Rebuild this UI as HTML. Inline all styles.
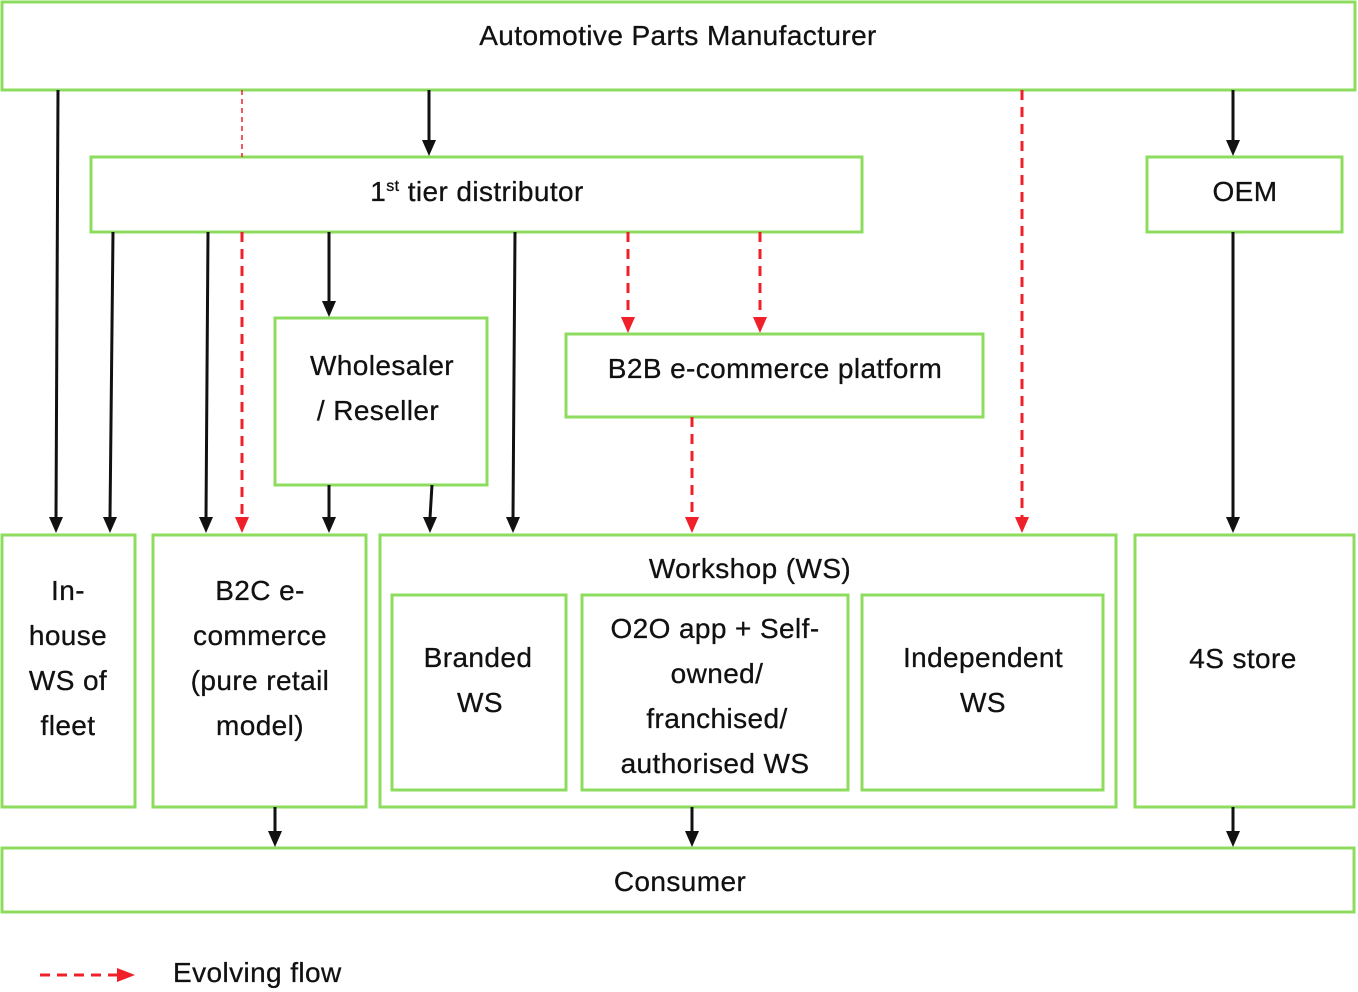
<!DOCTYPE html>
<html><head><meta charset="utf-8"><style>
body{margin:0;background:#fff;width:1358px;height:992px;overflow:hidden}
svg{display:block}
text{font-family:"Liberation Sans",sans-serif;font-size:28px;fill:#111;letter-spacing:0.4px;stroke:#111;stroke-width:0.3}
.b{fill:#fff;stroke:#8edc5e;stroke-width:3}
.k{stroke:#111;stroke-width:3;fill:none}
.r{stroke:#f0202a;stroke-width:3;fill:none;stroke-dasharray:10 7}
</style></head><body>
<svg width="1358" height="992" viewBox="0 0 1358 992">
<rect class="b" x="2" y="2" width="1353" height="88"/>
<rect class="b" x="91" y="157" width="771" height="75"/>
<rect class="b" x="1147" y="157" width="195" height="75"/>
<rect class="b" x="275" y="318" width="212" height="167"/>
<rect class="b" x="566" y="334" width="417" height="83"/>
<rect class="b" x="2" y="535" width="133" height="272"/>
<rect class="b" x="153" y="535" width="213" height="272"/>
<rect class="b" x="380" y="535" width="736" height="272"/>
<rect class="b" x="392" y="595" width="174" height="195"/>
<rect class="b" x="582" y="595" width="266" height="195"/>
<rect class="b" x="862" y="595" width="241" height="195"/>
<rect class="b" x="1135" y="535" width="219" height="272"/>
<rect class="b" x="2" y="848" width="1352" height="64"/>
<g class="k">
<line x1="58" y1="90" x2="56" y2="518"/>
<line x1="113" y1="232" x2="110" y2="518"/>
<line x1="208" y1="232" x2="206" y2="518"/>
<line x1="515" y1="232" x2="513" y2="518"/>
<line x1="329" y1="232" x2="329" y2="302"/>
<line x1="429" y1="90" x2="429" y2="141"/>
<line x1="329" y1="485" x2="329" y2="518"/>
<line x1="432" y1="485" x2="430" y2="518"/>
<line x1="1233" y1="90" x2="1233" y2="141"/>
<line x1="1233" y1="232" x2="1233" y2="518"/>
<line x1="275" y1="807" x2="275" y2="832"/>
<line x1="692" y1="807" x2="692" y2="832"/>
<line x1="1233" y1="807" x2="1233" y2="832"/>
</g>
<g fill="#111">
<path d="M49,517 L63,517 L56,533Z"/><path d="M103,517 L117,517 L110,533Z"/>
<path d="M199,517 L213,517 L206,533Z"/><path d="M506,517 L520,517 L513,533Z"/>
<path d="M322,301 L336,301 L329,317Z"/><path d="M422,140 L436,140 L429,156Z"/>
<path d="M322,517 L336,517 L329,533Z"/><path d="M423,517 L437,517 L430,533Z"/>
<path d="M1226,140 L1240,140 L1233,156Z"/><path d="M1226,517 L1240,517 L1233,533Z"/>
<path d="M268,831 L282,831 L275,847Z"/><path d="M685,831 L699,831 L692,847Z"/>
<path d="M1226,831 L1240,831 L1233,847Z"/>
</g>
<line x1="242" y1="90" x2="242" y2="157" stroke="#f0202a" stroke-width="1.5" stroke-dasharray="5 4"/>
<g class="r">
<line x1="242" y1="232" x2="242" y2="518"/>
<line x1="628" y1="232" x2="628" y2="318"/>
<line x1="760" y1="232" x2="760" y2="318"/>
<line x1="692" y1="417" x2="692" y2="518"/>
<line x1="1022" y1="90" x2="1022" y2="518"/>
<line x1="40" y1="975" x2="118" y2="975"/>
</g>
<g fill="#f0202a">
<path d="M235,517 L249,517 L242,533Z"/><path d="M621,317 L635,317 L628,333Z"/>
<path d="M753,317 L767,317 L760,333Z"/><path d="M685,517 L699,517 L692,533Z"/>
<path d="M1015,517 L1029,517 L1022,533Z"/><path d="M117,968 L117,982 L135,975Z"/>
</g>
<g text-anchor="middle">
<text x="678" y="45">Automotive Parts Manufacturer</text>
<text x="477" y="201">1<tspan font-size="16" dy="-10">st</tspan><tspan dy="10"> tier distributor</tspan></text>
<text x="1245" y="201">OEM</text>
<text x="382" y="375">Wholesaler</text><text x="378" y="420">/ Reseller</text>
<text x="775" y="378">B2B e-commerce platform</text>
<text x="68" y="600">In-</text><text x="68" y="645">house</text><text x="68" y="690">WS of</text><text x="68" y="735">fleet</text>
<text x="260" y="600">B2C e-</text><text x="260" y="645">commerce</text><text x="260" y="690">(pure retail</text><text x="260" y="735">model)</text>
<text x="750" y="578">Workshop (WS)</text>
<text x="478" y="667">Branded</text><text x="480" y="712">WS</text>
<text x="715" y="638">O2O app + Self-</text><text x="717" y="683">owned/</text><text x="717" y="728">franchised/</text><text x="715" y="773">authorised WS</text>
<text x="983" y="667">Independent</text><text x="983" y="712">WS</text>
<text x="1243" y="668">4S store</text>
<text x="680" y="891">Consumer</text>
</g>
<text x="173" y="982">Evolving flow</text>
</svg>
</body></html>
